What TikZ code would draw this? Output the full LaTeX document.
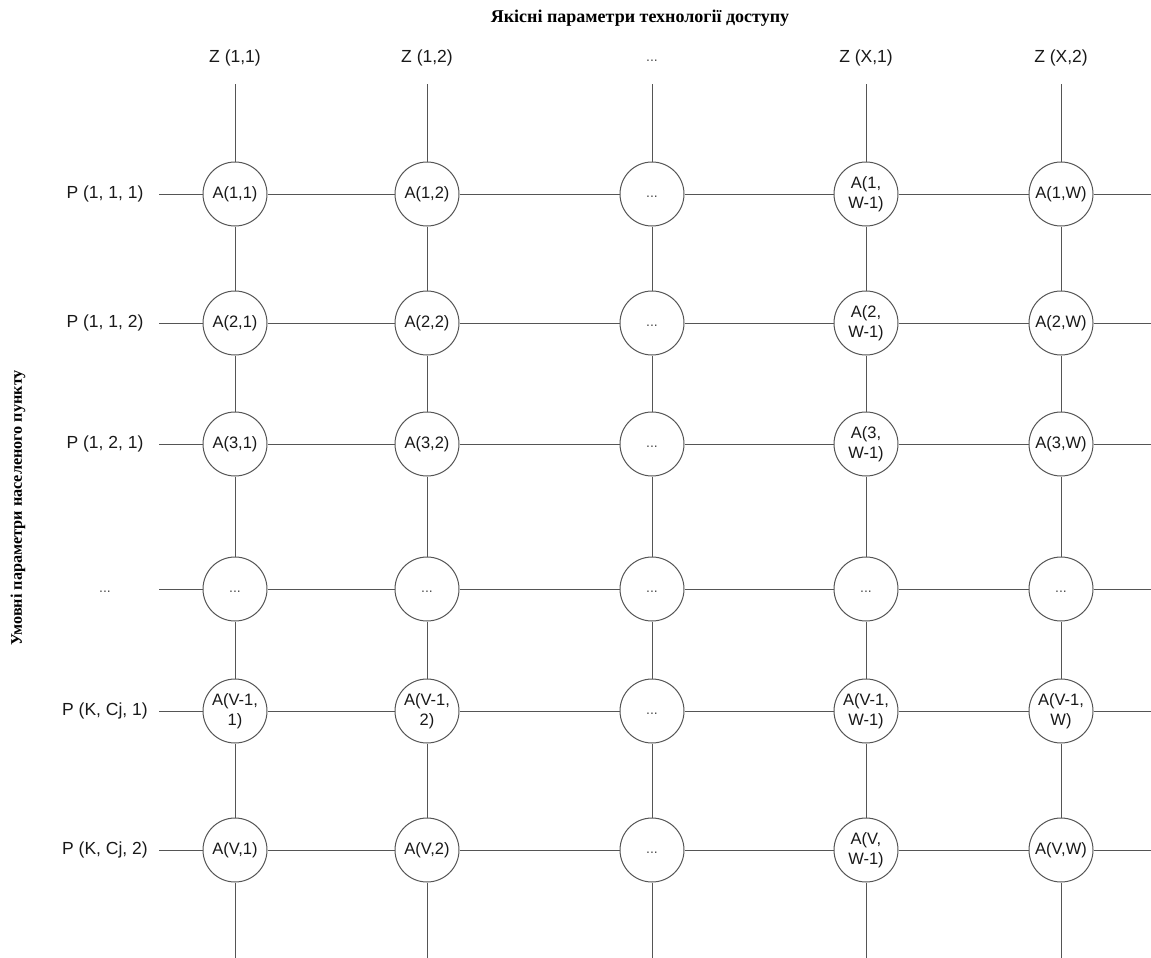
\documentclass[tikz,border=0pt]{standalone}
\usepackage{fontspec}
\setmainfont{Liberation Serif}
\newfontfamily\arialf{Liberation Sans}
\definecolor{linecol}{RGB}{85,85,85}
\definecolor{txtcol}{RGB}{25,25,25}
\begin{document}
\begin{tikzpicture}[x=1pt,y=-1pt,
  cell/.style={circle,draw=linecol,fill=white,line width=1pt,minimum size=64pt,inner sep=0pt,align=center,text=txtcol,font=\arialf\fontsize{16.5}{20}\selectfont},
  dotcell/.style={cell,text height=10pt,text depth=3pt,font=\arialf\fontsize{14}{16}\selectfont,text=black!70},
  lbl/.style={text=txtcol,font=\arialf\fontsize{17.5}{21}\selectfont},
  dotlbl/.style={lbl,text height=10pt,text depth=3pt,font=\arialf\fontsize{14}{16}\selectfont,text=black!70},
  conn/.style={draw=linecol,line width=1pt}]
\useasboundingbox (0,0) rectangle (1151,958);

% titles
\node[text=black,font=\bfseries\fontsize{18}{21}\selectfont] (htitle) at (640,18) {Якісні параметри технології доступу};
\node[text=black,font=\bfseries\fontsize{16.2}{19}\selectfont,rotate=90] (vtitle) at (18,508) {Умовні параметри населеного пункту};

% column labels
\node[lbl] (z1) at (235,58) {Z (1,1)};
\node[lbl] (z2) at (427,58) {Z (1,2)};
\node[dotlbl] (z3) at (652,58) {...};
\node[lbl] (z4) at (866,58) {Z (X,1)};
\node[lbl] (z5) at (1061,58) {Z (X,2)};

% row labels
\node[lbl] (p1) at (105,194) {P (1, 1, 1)};
\node[lbl] (p2) at (105,323) {P (1, 1, 2)};
\node[lbl] (p3) at (105,444) {P (1, 2, 1)};
\node[dotlbl] (p4) at (105,589) {...};
\node[lbl] (p5) at (105,711) {P (K, Cj, 1)};
\node[lbl] (p6) at (105,850) {P (K, Cj, 2)};

% row 1
\node[cell] (n1-1) at (235,194) {A(1,1)};
\node[cell] (n1-2) at (427,194) {A(1,2)};
\node[dotcell] (n1-3) at (652,194) {...};
\node[cell] (n1-4) at (866,194) {A(1,\\W-1)};
\node[cell] (n1-5) at (1061,194) {A(1,W)};
% row 2
\node[cell] (n2-1) at (235,323) {A(2,1)};
\node[cell] (n2-2) at (427,323) {A(2,2)};
\node[dotcell] (n2-3) at (652,323) {...};
\node[cell] (n2-4) at (866,323) {A(2,\\W-1)};
\node[cell] (n2-5) at (1061,323) {A(2,W)};
% row 3
\node[cell] (n3-1) at (235,444) {A(3,1)};
\node[cell] (n3-2) at (427,444) {A(3,2)};
\node[dotcell] (n3-3) at (652,444) {...};
\node[cell] (n3-4) at (866,444) {A(3,\\W-1)};
\node[cell] (n3-5) at (1061,444) {A(3,W)};
% row 4
\node[dotcell] (n4-1) at (235,589) {...};
\node[dotcell] (n4-2) at (427,589) {...};
\node[dotcell] (n4-3) at (652,589) {...};
\node[dotcell] (n4-4) at (866,589) {...};
\node[dotcell] (n4-5) at (1061,589) {...};
% row 5
\node[cell] (n5-1) at (235,711) {A(V-1,\\1)};
\node[cell] (n5-2) at (427,711) {A(V-1,\\2)};
\node[dotcell] (n5-3) at (652,711) {...};
\node[cell] (n5-4) at (866,711) {A(V-1,\\W-1)};
\node[cell] (n5-5) at (1061,711) {A(V-1,\\W)};
% row 6
\node[cell] (n6-1) at (235,850) {A(V,1)};
\node[cell] (n6-2) at (427,850) {A(V,2)};
\node[dotcell] (n6-3) at (652,850) {...};
\node[cell] (n6-4) at (866,850) {A(V,\\W-1)};
\node[cell] (n6-5) at (1061,850) {A(V,W)};

% free ends
\foreach \r/\y in {1/194,2/323,3/444,4/589,5/711,6/850} {
  \coordinate (L\r) at (159,\y);
  \coordinate (R\r) at (1151,\y);
}
\foreach \c/\x in {1/235,2/427,3/652,4/866,5/1061} {
  \coordinate (T\c) at (\x,84);
  \coordinate (B\c) at (\x,958);
}

% horizontal connectors
\foreach \r in {1,...,6} {
  \draw[conn] (L\r) -- (n\r-1) -- (n\r-2) -- (n\r-3) -- (n\r-4) -- (n\r-5) -- (R\r);
}
% vertical connectors
\foreach \c in {1,...,5} {
  \draw[conn] (T\c) -- (n1-\c) -- (n2-\c) -- (n3-\c) -- (n4-\c) -- (n5-\c) -- (n6-\c) -- (B\c);
}
\end{tikzpicture}
\end{document}
